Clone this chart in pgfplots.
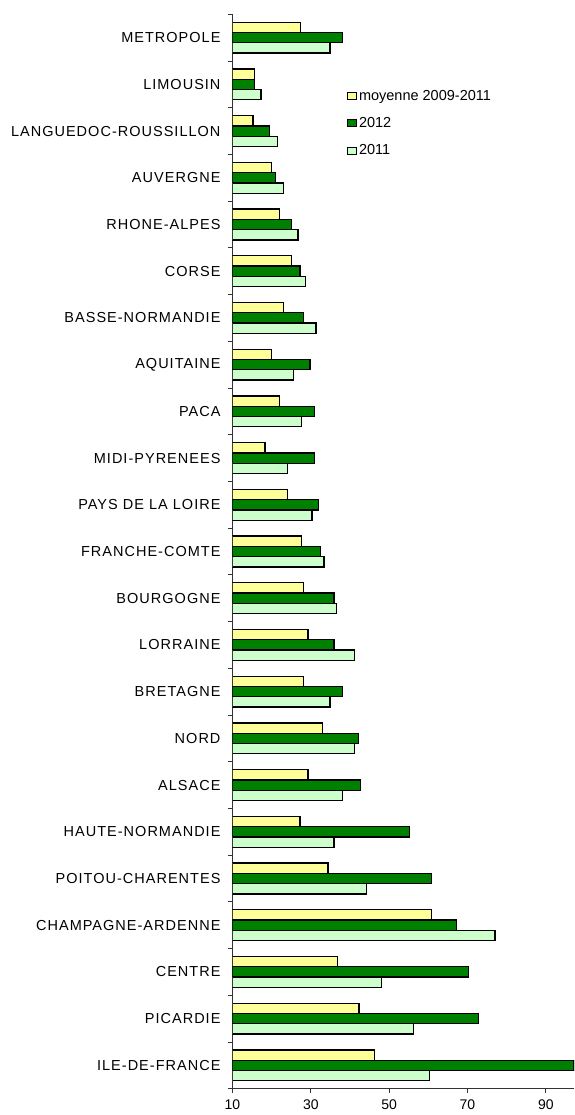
\documentclass[border=0pt]{standalone}
\usepackage{pgfplots}
\pgfplotsset{compat=1.18}
\usepackage{fontspec}
\setmainfont{Liberation Sans}
\newfontfamily\catfont[LetterSpace=7]{Liberation Sans}
\definecolor{moy}{HTML}{FFFF99}
\definecolor{vert}{HTML}{008000}
\definecolor{clair}{HTML}{CCFFCC}

\begin{document}
\begin{tikzpicture}
\path[use as bounding box] (-232.5pt,-26.3pt) rectangle (341.5pt,1088.7pt);
\begin{axis}[
  at={(0pt,0pt)}, anchor=south west,
  scale only axis, width=341.5pt, height=1074.4pt,
  xbar, bar width=10.3pt,
  xmin=10, xmax=97.2, ymin=-0.5, ymax=22.5,
  enlargelimits=false,
  axis x line*=bottom, axis y line*=left,
  axis line style={draw=black!80, line width=0.8pt},
  tick align=outside,
  major tick length=4pt, minor tick length=4pt,
  tick style={draw=black!80, line width=0.8pt},
  every major y tick/.append style={draw=none},
  xtick={10,30,50,70,90},
  ytick={0,...,22},
  minor ytick={-0.5,0.5,...,22.5},
  yticklabels={ILE-DE-FRANCE, PICARDIE, CENTRE, CHAMPAGNE-ARDENNE,
    POITOU-CHARENTES, HAUTE-NORMANDIE, ALSACE, NORD, BRETAGNE, LORRAINE,
    BOURGOGNE, FRANCHE-COMTE, PAYS DE LA LOIRE, MIDI-PYRENEES, PACA,
    AQUITAINE, BASSE-NORMANDIE, CORSE, RHONE-ALPES, AUVERGNE,
    LANGUEDOC-ROUSSILLON, LIMOUSIN, METROPOLE},
  /pgf/number format/assume math mode=true,
  xticklabel style={font=\fontsize{14}{16}\selectfont, yshift=-3pt},
  yticklabel style={font=\fontsize{14.5}{16}\catfont, xshift=-4.5pt},
  legend image code/.code={\draw[#1, line width=1pt] (0pt,-3.5pt) rectangle (9pt,3.5pt);},
  legend style={at={(0.326,0.933)}, anchor=north west, draw=none, fill=none,
    font=\fontsize{14.5}{16}\selectfont, row sep=11.5pt},
  legend cell align=left,
]
% moyenne 2009-2011
\addplot[fill=moy, draw=black, line width=1.3pt, bar shift=10.3pt] coordinates {
(46.3,0) (42.3,1) (36.9,2) (60.9,3) (34.4,4) (27.2,5) (29.3,6) (32.9,7)
(28.2,8) (29.3,9) (28.2,10) (27.7,11) (24.1,12) (18.3,13) (22.0,14)
(19.9,15) (23.0,16) (25.1,17) (22.0,18) (19.9,19) (15.2,20) (15.7,21) (27.4,22)};
% 2012
\addplot[fill=vert, draw=black, line width=1.3pt, bar shift=0pt] coordinates {
(97.2,0) (72.8,1) (70.2,2) (67.2,3) (60.9,4) (55.2,5) (42.7,6) (42.2,7)
(38.1,8) (35.9,9) (35.9,10) (32.4,11) (31.9,12) (30.9,13) (30.9,14)
(29.8,15) (28.2,16) (27.2,17) (25.1,18) (20.9,19) (19.4,20) (15.7,21) (38.1,22)};
% 2011
\addplot[fill=clair, draw=black, line width=1.3pt, bar shift=-10.3pt] coordinates {
(60.3,0) (56.2,1) (48.0,2) (77.0,3) (44.2,4) (35.9,5) (38.0,6) (41.2,7)
(34.9,8) (41.2,9) (36.5,10) (33.4,11) (30.3,12) (24.1,13) (27.7,14)
(25.5,15) (31.3,16) (28.7,17) (26.7,18) (23.0,19) (21.5,20) (17.3,21) (34.9,22)};
\legend{moyenne 2009-2011, 2012, 2011}
\end{axis}
\end{tikzpicture}
\end{document}
